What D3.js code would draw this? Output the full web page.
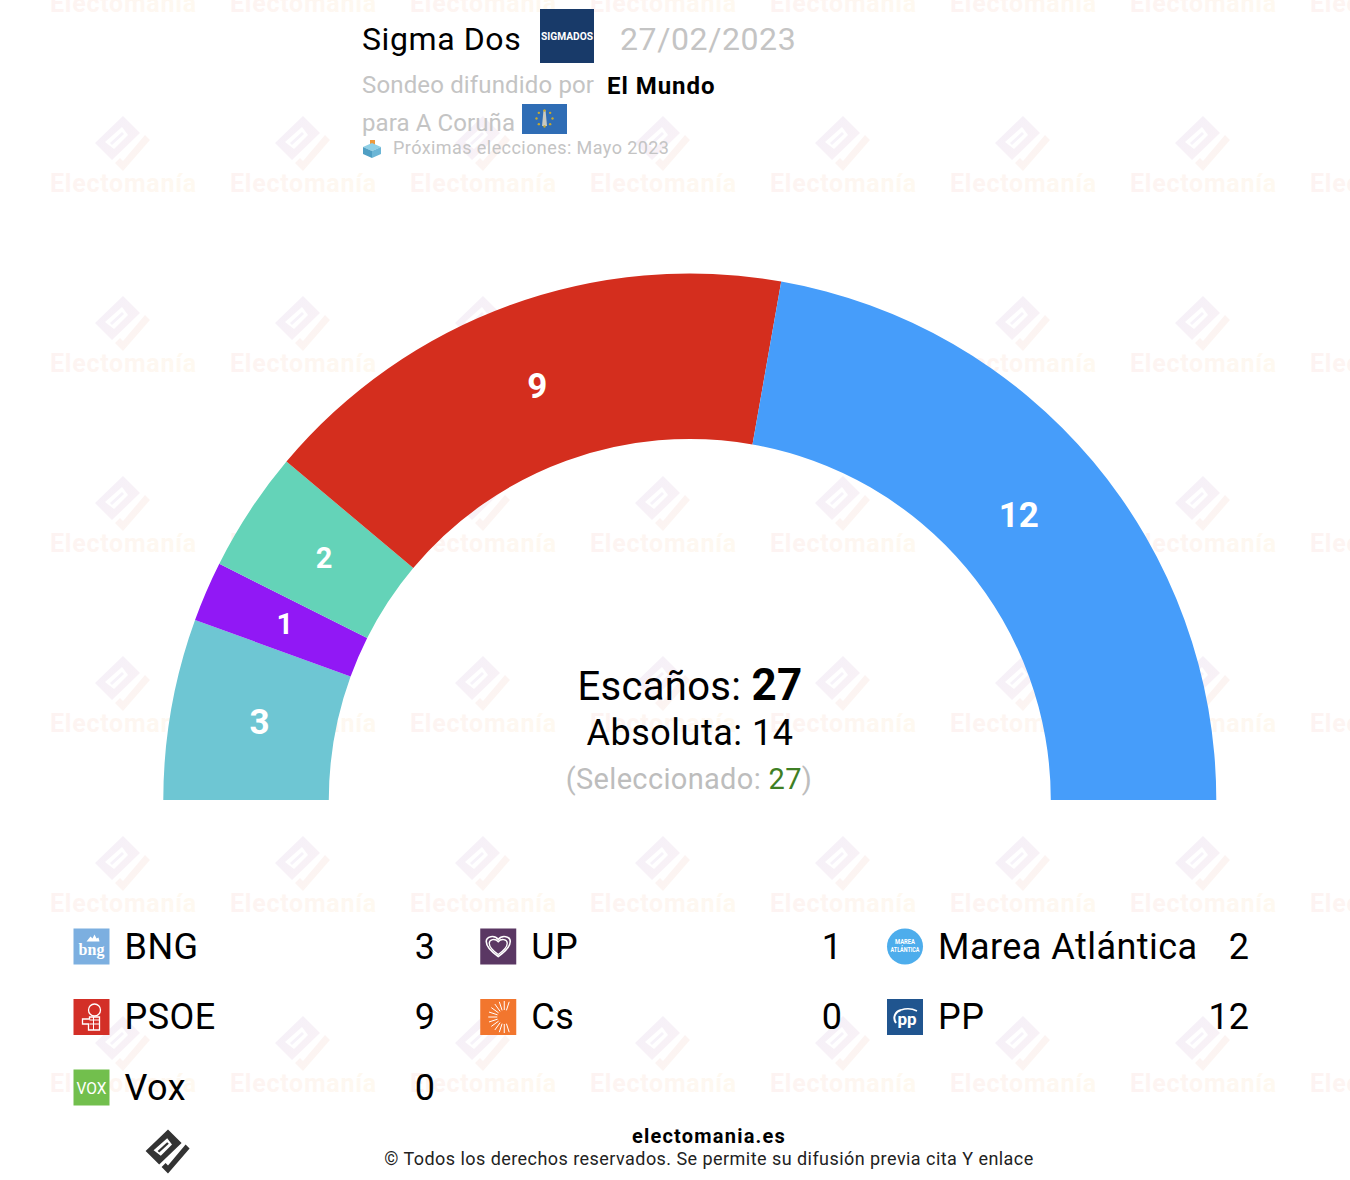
<!DOCTYPE html>
<html>
<head>
<meta charset="utf-8">
<title>Sigma Dos - A Coruña</title>
<script src="https://cdn.jsdelivr.net/npm/d3@7"></script>
<style>
  html, body { margin: 0; padding: 0; background: #fff; overflow: hidden; }
  svg { display: block; font-family: Roboto, sans-serif; }
</style>
</head>
<body>
<div id="chart"></div>
<script>
// arc, left to right
var arcParties = ['BNG', 'UP', 'Marea Atlántica', 'PSOE', 'PP'];
var arcSeats = [3, 1, 2, 9, 12];
var arcColors = ['#6ec6d3', '#9118f5', '#64d3b8', '#d42e1e', '#469dfa'];

// legend, filled column by column
var legendColumns = [
  ['BNG', 'PSOE', 'Vox'],
  ['UP', 'Cs'],
  ['Marea Atlántica', 'PP']
];
var legendValues = [
  [3, 9, 0],
  [1, 0],
  [2, 12]
];

var totalSeats = 27;
var majority = 14;
var selected = 27;

var width = 1350, height = 1180;
var svg = d3.select('#chart').append('svg').attr('width', width).attr('height', height);
var defs = svg.append('defs');

function gradient(id, from, to, angled) {
  var g = defs.append('linearGradient').attr('id', id);
  if (angled) g.attr('x1', 0).attr('y1', 0).attr('x2', 1).attr('y2', 1);
  g.append('stop').attr('offset', 0).attr('stop-color', from);
  g.append('stop').attr('offset', 1).attr('stop-color', to);
}
gradient('wmText', '#fdf3f2', '#fef9f0');
gradient('wmBody', '#f4f0f9', '#faf2f5', true);
gradient('wmTail', '#fbf2f4', '#fdf6f0', true);

var logoBody = 'M0,-27L17,-10L-11,17L-28,0ZM-1,-16L-18,-1L-9,6L5,-8Z';
var logoBar = 'M-13,0L-1,-11L1,-9L-11,2Z';
var logoTail = 'M22,-8L27,-3L0,28L-8,20L-3,15L0,18Z';

/* ---- watermark ---- */
var wm = svg.append('g');
d3.range(0, 8).forEach(function (col) {
  d3.range(-1, 7).forEach(function (row) {
    var cell = wm.append('g').attr('transform', 'translate(' + (123 + col * 180) + ',' + (143 + row * 180) + ')');
    cell.append('path').attr('d', logoBody).attr('fill', 'url(#wmBody)').attr('fill-rule', 'evenodd');
    cell.append('path').attr('d', logoBar).attr('fill', '#f6f2f9');
    cell.append('path').attr('d', logoTail).attr('fill', 'url(#wmTail)');
    cell.append('text').attr('x', -73).attr('y', 49)
      .attr('font-size', 25).attr('font-weight', 700).attr('letter-spacing', 0.75)
      .attr('fill', 'url(#wmText)').text('Electomanía');
  });
});

/* ---- header ---- */
var head = svg.append('g');
function label(parent, x, y, size, color, str, weight, anchor, spacing) {
  return parent.append('text').attr('x', x).attr('y', y).attr('font-size', size)
    .attr('fill', color).attr('font-weight', weight || 400).attr('text-anchor', anchor || 'start')
    .attr('letter-spacing', spacing || 0).text(str);
}
label(head, 362, 50, 32, '#000', 'Sigma Dos', 400, 'start', 0.6);
head.append('rect').attr('x', 540).attr('y', 9).attr('width', 54).attr('height', 54).attr('fill', '#183a69');
label(head, 567, 40, 11, '#fff', 'SIGMADOS', 700, 'middle').attr('textLength', 52).attr('lengthAdjust', 'spacingAndGlyphs');
label(head, 620, 50, 32, '#c4c4c4', '27/02/2023', 400, 'start', 0.6);
label(head, 362, 93, 24, '#c4c4c4', 'Sondeo difundido por', 400, 'start', 0.15);
label(head, 607, 94, 24, '#000', 'El Mundo', 700, 'start', 0.95);
label(head, 362, 131, 24, '#c4c4c4', 'para A Coruña', 400, 'start', 0.1);
head.append('rect').attr('x', 522).attr('y', 104).attr('width', 45).attr('height', 30).attr('fill', '#2f6db5');
head.append('path').attr('d', 'M542,126L543.5,110L545.5,110L547,126Z').attr('fill', '#c9c9c0');
d3.range(0, 8).forEach(function (i) {
  var a = i * Math.PI / 4;
  head.append('circle').attr('cx', 544.5 + 8 * Math.cos(a)).attr('cy', 118.5 + 8 * Math.sin(a))
    .attr('r', 1.2).attr('fill', '#c8a92d');
});
// ballot box
head.append('rect').attr('x', 370).attr('y', 140).attr('width', 5).attr('height', 7).attr('fill', '#ee9a3c');
head.append('path').attr('d', 'M363,147L372,143L381,147L372,151Z').attr('fill', '#8fd0e6');
head.append('path').attr('d', 'M363,147L372,151L372,158L363,154Z').attr('fill', '#4f9fc4');
head.append('path').attr('d', 'M381,147L372,151L372,158L381,154Z').attr('fill', '#6cb6d6');
label(head, 393, 154, 18, '#c4c4c4', 'Próximas elecciones: Mayo 2023', 400, 'start', 0.43);

/* ---- hemicycle ---- */
var cx = 689.8, cy = 800, outerR = 526.5, innerR = 361, labelR = 440;
var pie = d3.pie().sort(null).startAngle(-Math.PI / 2).endAngle(Math.PI / 2);
var arc = d3.arc().innerRadius(innerR).outerRadius(outerR);
var labelArc = d3.arc().innerRadius(labelR).outerRadius(labelR);
var color = d3.scaleOrdinal().domain(arcParties).range(arcColors);
// the labels in the original sit a little off the true centroid
var labelNudge = [[3, -2], [-1, -2], [2, -1], [-2, -1], [-8, -3]];

var hemi = svg.append('g').attr('transform', 'translate(' + cx + ',' + cy + ')');
var slices = pie(arcSeats);
hemi.selectAll('path').data(slices).enter().append('path')
  .attr('d', arc)
  .attr('fill', function (d, i) { return color(arcParties[i]); });
hemi.selectAll('text').data(slices).enter().append('text')
  .attr('transform', function (d, i) {
    var c = labelArc.centroid(d);
    return 'translate(' + (c[0] + labelNudge[i][0]) + ',' + (c[1] + labelNudge[i][1]) + ')';
  })
  .attr('text-anchor', 'middle').attr('dy', '0.36em')
  .attr('fill', '#fff').attr('font-weight', 700)
  .attr('font-size', function (d) { return d.value < 3 ? 29 : 35; })
  .text(function (d) { return d.value; });

/* ---- centre text ---- */
var t1 = label(svg, 690, 700, 40, '#000', 'Escaños: ', 400, 'middle', 0.3);
t1.append('tspan').attr('font-weight', 700).attr('font-size', 44).text(totalSeats);
label(svg, 690, 745, 36, '#000', 'Absoluta: ' + majority, 400, 'middle', 0.5);
var t3 = label(svg, 689, 789, 29, '#bdbdbd', '(Seleccionado: ', 400, 'middle', 0.33);
t3.append('tspan').attr('fill', '#3f7f25').text(selected);
t3.append('tspan').text(')');

/* ---- legend ---- */
var colX = d3.scalePoint().domain([0, 1, 2]).range([73.5, 887]);
var rowY = d3.scalePoint().domain([0, 1, 2]).range([928.5, 1069.5]);
var valueX = [435, 842, 1249];

function icon(g, name) {
  var bg = { BNG: '#7cafe0', PSOE: '#d32f27', Vox: '#72bf4d', UP: '#5a3763', Cs: '#f2762e', 'Marea Atlántica': '#4dadec', PP: '#20558f' }[name];
  if (name === 'Marea Atlántica') {
    g.append('circle').attr('cx', 18).attr('cy', 18).attr('r', 18).attr('fill', bg);
    label(g, 18, 15, 8, '#fff', 'MAREA', 700, 'middle').attr('textLength', 20).attr('lengthAdjust', 'spacingAndGlyphs');
    label(g, 18, 23, 8, '#fff', 'ATLÁNTICA', 700, 'middle').attr('textLength', 29).attr('lengthAdjust', 'spacingAndGlyphs');
    return;
  }
  g.append('rect').attr('width', 36).attr('height', 36).attr('fill', bg);
  if (name === 'BNG') {
    label(g, 18, 26, 16, '#fff', 'bng', 700, 'middle').attr('font-family', 'Liberation Serif');
    g.append('path').attr('d', 'M13,13L17,8L19,10L21,6L23,10L25,9L26,13Z').attr('fill', '#fff');
  } else if (name === 'PSOE') {
    g.append('circle').attr('cx', 21).attr('cy', 11).attr('r', 6).attr('fill', 'none').attr('stroke', '#fff').attr('stroke-width', 1.3);
    g.append('path').attr('d', 'M16,18H26V31H15V25H9V20H16Z').attr('fill', 'none').attr('stroke', '#fff').attr('stroke-width', 1.3);
    g.append('path').attr('d', 'M16,25H26M16,21H26M20,18V31').attr('stroke', '#fff').attr('stroke-width', 1);
  } else if (name === 'Vox') {
    label(g, 18, 24, 17, '#fff', 'VOX', 400, 'middle').attr('textLength', 30).attr('lengthAdjust', 'spacingAndGlyphs');
  } else if (name === 'UP') {
    var heart = 'M18,28C8,21 6,16 6,13C6,8 14,6 18,11C22,6 30,8 30,13C30,16 28,21 18,28Z';
    g.append('path').attr('d', heart).attr('fill', 'none').attr('stroke', '#fff').attr('stroke-width', 1.6);
    g.append('path').attr('d', heart).attr('transform', 'translate(4.5,5) scale(.75)').attr('fill', 'none').attr('stroke', '#fff').attr('stroke-width', 1.8);
  } else if (name === 'Cs') {
    d3.range(-6, 7).forEach(function (i) {
      var a = Math.PI + i * Math.PI / 10;
      g.append('line').attr('x1', 24 + 7 * Math.cos(a)).attr('y1', 18 + 7 * Math.sin(a))
        .attr('x2', 24 + 16 * Math.cos(a)).attr('y2', 18 + 16 * Math.sin(a))
        .attr('stroke', '#fff').attr('stroke-width', 1);
    });
  } else if (name === 'PP') {
    label(g, 20, 26, 17, '#fff', 'pp', 700, 'middle');
    g.append('path').attr('d', 'M9,24C5,18 9,12 14,11').attr('fill', 'none').attr('stroke', '#fff').attr('stroke-width', 2);
    g.append('path').attr('d', 'M14,11C20,9 26,10 30,12').attr('fill', 'none').attr('stroke', '#fff').attr('stroke-width', 1.5);
  }
}

var legend = svg.append('g');
legendColumns.forEach(function (names, col) {
  names.forEach(function (name, row) {
    var x = colX(col), y = rowY(row);
    var g = legend.append('g').attr('transform', 'translate(' + x + ',' + y + ')');
    icon(g, name);
    label(legend, x + 51, y + 30, 36, '#000', name, 400, 'start', 0.47);
    label(legend, valueX[col], y + 30, 36, '#000', legendValues[col][row], 400, 'end');
  });
});

/* ---- footer ---- */
var mark = svg.append('g').attr('transform', 'translate(168,1151) scale(0.8)');
mark.append('path').attr('d', logoBody).attr('fill', '#333').attr('fill-rule', 'evenodd');
mark.append('path').attr('d', logoBar).attr('fill', '#333');
mark.append('path').attr('d', logoTail).attr('fill', '#333');
label(svg, 709, 1143, 20, '#000', 'electomania.es', 700, 'middle', 1.2);
label(svg, 709, 1165, 18, '#222', '© Todos los derechos reservados. Se permite su difusión previa cita Y enlace', 400, 'middle', 0.45);
</script>
</body>
</html>
